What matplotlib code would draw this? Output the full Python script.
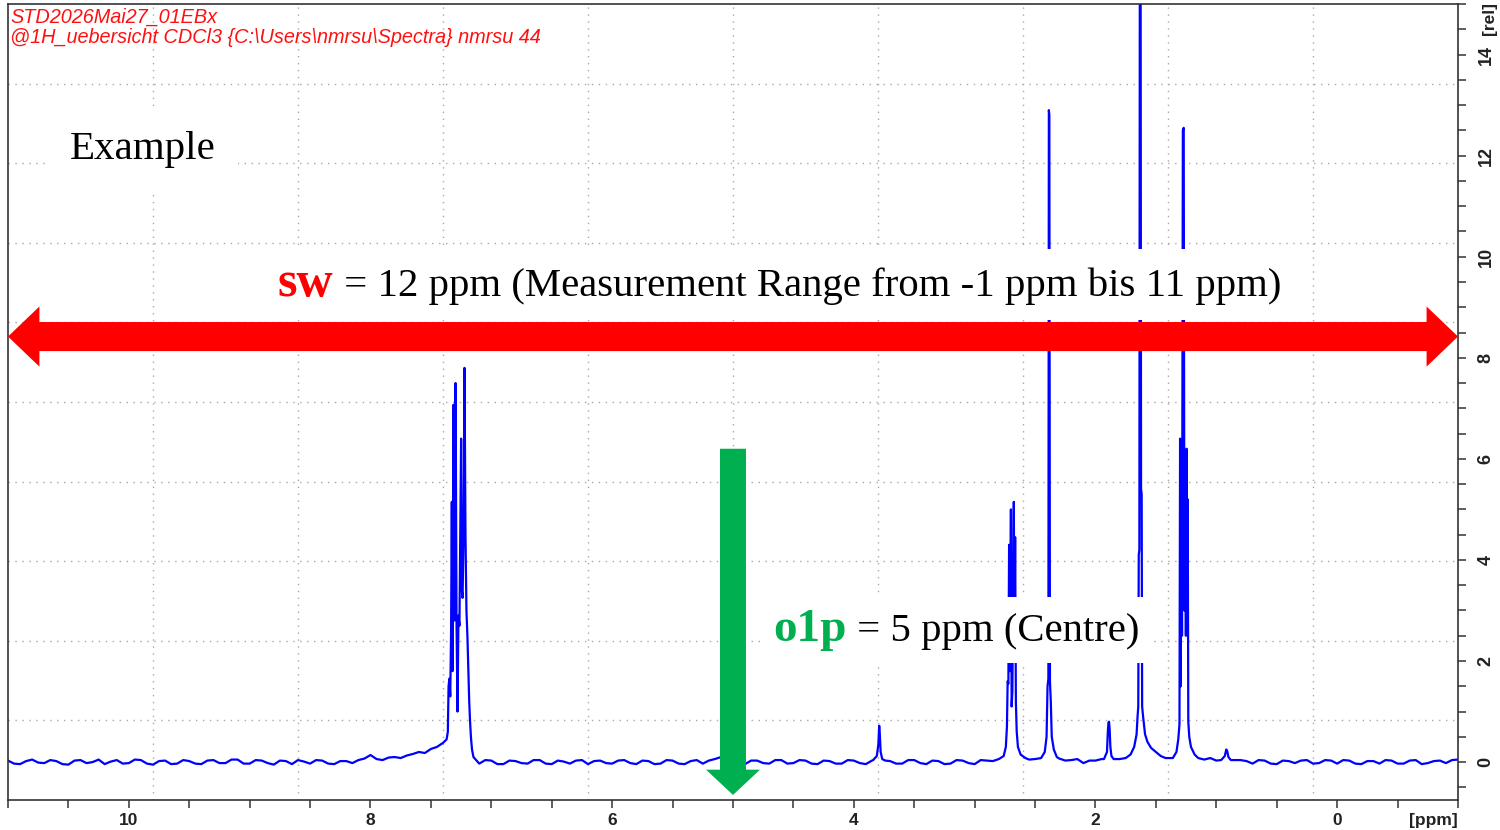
import numpy as np
import matplotlib
matplotlib.use('Agg')
import matplotlib.pyplot as plt
from matplotlib.patches import FancyArrow
from matplotlib.offsetbox import TextArea, HPacker, AnnotationBbox
from matplotlib.ticker import MultipleLocator

plt.rcParams['font.family'] = ['Liberation Sans', 'DejaVu Sans']

# baseline (every 0.05 ppm from 11 to -1)
base_ppm = np.round(np.linspace(11.0, -1.0, 241), 3)
base_int = [
    0.03, -0.03, -0.04, 0.02, 0.05, -0.01, -0.02, 0.04, 0.02, -0.04, -0.05, 0.03, 0.04, -0.02, 0.00, 0.05, -0.04, 0.01, 0.04, -0.03,
    -0.02, 0.05, 0.04, -0.03, -0.05, 0.02, 0.03, -0.04, -0.03, 0.04, 0.02, -0.03, -0.04, 0.03, 0.04, -0.02, -0.02, 0.05, 0.05, -0.03,
    -0.03, 0.04, 0.03, -0.02, -0.05, 0.03, 0.02, -0.04, 0.04, 0.01, -0.03, 0.04, 0.03, -0.03, -0.04, 0.02, 0.02, -0.02, 0.04, 0.07,
    0.14, 0.06, 0.04, 0.09, 0.10, 0.08, 0.13, 0.16, 0.20, 0.18, 0.26, 0.23, 0.32, 0.30, 0.30, 0.30, 0.05, 0.03, -0.03, 0.04,
    0.03, -0.04, -0.04, 0.03, 0.02, -0.02, -0.03, 0.04, 0.04, -0.03, -0.04, 0.03, 0.01, -0.03, 0.03, 0.04, -0.04, 0.02, 0.03, -0.02,
    -0.03, 0.03, 0.04, -0.02, -0.04, 0.03, 0.02, -0.04, -0.03, 0.04, 0.03, -0.03, -0.04, 0.02, 0.04, -0.03, 0.03, 0.06, 0.10, 0.04,
    0.01, -0.03, -0.04, 0.03, 0.03, -0.02, -0.03, 0.04, 0.04, -0.03, -0.02, 0.04, 0.03, -0.03, -0.04, 0.03, 0.02, -0.03, -0.03, 0.04,
    0.03, -0.02, -0.04, 0.03, 0.06, 0.02, 0.02, -0.03, -0.03, 0.04, 0.04, -0.02, -0.04, 0.03, 0.02, -0.04, -0.03, 0.04, 0.03, -0.02,
    -0.04, 0.04, 0.03, 0.02, 0.05, 0.07, 0.10, 0.09, 0.08, 0.05, 0.06, 0.09, 0.10, 0.06, 0.07, 0.03, 0.04, 0.06, -0.02, 0.03,
    0.03, 0.06, 0.08, 0.05, 0.06, 0.10, 0.14, 0.20, 0.30, 0.22, 0.18, 0.12, 0.08, 0.10, 0.10, 0.07, 0.09, 0.06, 0.05, 0.08,
    0.03, 0.06, 0.15, 0.04, 0.04, 0.02, -0.03, 0.04, 0.03, -0.03, -0.04, 0.03, 0.02, -0.02, 0.03, 0.04, -0.03, -0.02, 0.04, 0.03,
    -0.03, 0.04, 0.03, -0.03, -0.04, 0.02, 0.02, -0.03, 0.04, 0.03, -0.03, -0.03, 0.03, 0.04, -0.04, -0.02, 0.02, 0.03, -0.02, 0.04,
    0.05,
]

# signals (ppm, intensity)
arom_ppm = [7.45, 7.40, 7.37, 7.360, 7.354, 7.347, 7.340, 7.333, 7.327, 7.321,
            7.313, 7.306, 7.296, 7.288, 7.280, 7.272, 7.264, 7.256, 7.250, 7.244,
            7.238, 7.230, 7.222, 7.214, 7.206, 7.198, 7.190, 7.183, 7.176, 7.169,
            7.160, 7.148]
arom_int = [0.30, 0.38, 0.45, 0.6, 1.5, 1.65, 1.3, 2.6, 5.15, 1.8,
            7.07, 2.8, 7.5, 2.75, 1.0, 2.9, 2.7, 4.8, 6.4, 3.4,
            3.25, 4.5, 7.8, 4.5, 3.0, 2.5, 1.8, 1.2, 0.8, 0.5,
            0.25, 0.1]

ome_ppm = [3.84, 3.81, 3.797, 3.790, 3.785, 3.778, 3.765, 3.74]
ome_int = [0.04, 0.12, 0.35, 0.72, 0.55, 0.2, 0.06, 0.03]

m27_ppm = [2.80, 2.76, 2.742, 2.733, 2.727, 2.721, 2.715, 2.709, 2.700, 2.694,
           2.688, 2.676, 2.671, 2.665, 2.659, 2.652, 2.642, 2.62, 2.58]
m27_int = [0.06, 0.12, 0.3, 0.7, 1.6, 1.55, 4.3, 1.8, 5.0, 1.1,
           1.4, 5.15, 2.0, 4.45, 1.2, 0.6, 0.3, 0.15, 0.08]

s24_ppm = [2.45, 2.42, 2.405, 2.397, 2.390, 2.386, 2.382, 2.377, 2.370, 2.362, 2.345, 2.32]
s24_int = [0.08, 0.2, 0.5, 1.5, 1.65, 12.9, 12.8, 1.6, 1.2, 0.5, 0.25, 0.1]

m19_ppm = [1.93, 1.905, 1.898, 1.893, 1.888, 1.883, 1.877, 1.868, 1.85]
m19_int = [0.06, 0.2, 0.6, 0.78, 0.8, 0.65, 0.3, 0.12, 0.06]

s16_ppm = [1.75, 1.71, 1.68, 1.66, 1.652, 1.646, 1.642, 1.637, 1.633, 1.627,
           1.623, 1.618, 1.614, 1.606, 1.59, 1.57, 1.54, 1.50, 1.46, 1.42]
s16_int = [0.08, 0.15, 0.3, 0.55, 0.9, 1.1, 4.1, 4.2, 16.5, 16.5,
           5.4, 5.3, 1.1, 0.9, 0.55, 0.4, 0.28, 0.2, 0.12, 0.08]

m13_ppm = [1.36, 1.33, 1.315, 1.305, 1.300, 1.295, 1.289, 1.284, 1.277, 1.270,
           1.264, 1.258, 1.252, 1.246, 1.241, 1.237, 1.232, 1.224, 1.21, 1.18, 1.15]
m13_int = [0.08, 0.2, 0.45, 0.75, 6.4, 1.5, 5.0, 2.5, 12.5, 12.55,
           3.0, 5.5, 2.5, 6.2, 2.8, 5.2, 0.8, 0.5, 0.3, 0.15, 0.08]

m09_ppm = [0.96, 0.93, 0.918, 0.910, 0.90, 0.88]
m09_int = [0.04, 0.12, 0.25, 0.22, 0.1, 0.04]

signals = [(arom_ppm, arom_int), (ome_ppm, ome_int), (m27_ppm, m27_int),
           (s24_ppm, s24_int), (m19_ppm, m19_int), (s16_ppm, s16_int),
           (m13_ppm, m13_int), (m09_ppm, m09_int)]

# put the signals into the baseline
keep = np.ones(len(base_ppm), dtype=bool)
for p, _ in signals:
    keep &= ~((base_ppm >= min(p)) & (base_ppm <= max(p)))
ppm = np.concatenate([base_ppm[keep]] + [np.array(p) for p, _ in signals])
inten = np.concatenate([np.array(base_int)[keep]] + [np.array(i) for _, i in signals])
order = np.argsort(-ppm, kind='stable')
ppm, inten = ppm[order], inten[order]

fig = plt.figure(figsize=(15, 8.3), dpi=100)
ax = fig.add_axes([8/1500, 30/830, 1450/1500, 796/830])
ax.set_xlim(11, -1)
ax.set_ylim(-0.75, 15)

# dotted grid, 10 divisions each way
for gx in np.linspace(11, -1, 11)[1:-1]:
    ax.axvline(gx, color='#a8a8a8', lw=1, ls=(0, (1, 4)), zorder=0.5)
for gy in np.linspace(-0.75, 15, 11)[1:-1]:
    ax.axhline(gy, color='#a8a8a8', lw=1, ls=(0, (1, 4)), zorder=0.5)

ax.plot(ppm, inten, color='#0000ff', lw=1.6, zorder=2)

# axes styling
for s in ax.spines.values():
    s.set_color('#333333')
    s.set_linewidth(1.2)
ax.yaxis.tick_right()
ax.xaxis.set_major_locator(MultipleLocator(2))
ax.xaxis.set_minor_locator(MultipleLocator(0.5))
ax.yaxis.set_major_locator(MultipleLocator(2))
ax.yaxis.set_minor_locator(MultipleLocator(0.5))
ax.tick_params(which='both', direction='out', length=6, width=1.1, color='#333333')
ax.tick_params(axis='x', labelsize=12.5, pad=3, labelcolor='#222222')
ax.tick_params(axis='y', labelsize=13, pad=8, labelcolor='#222222', labelrotation=90)
for t in ax.get_xticklabels() + ax.get_yticklabels():
    t.set_fontweight('bold')
for t in ax.get_yticklabels():
    t.set_va('center')

ax.text(1.0, -0.026, '[ppm]', transform=ax.transAxes, ha='right', va='center',
        fontsize=12.5, fontweight='bold', color='#222222')
ax.text(1.0215, 0.982, '[rel]', transform=ax.transAxes, ha='center', va='center',
        rotation=90, fontsize=12.5, fontweight='bold', color='#222222')

# red header
ax.text(0.0014, 0.983, 'STD2026Mai27_01EBx', transform=ax.transAxes, ha='left',
        va='center', fontsize=14.3, fontstyle='italic', color='#ff1010', zorder=6)
ax.text(0.0014, 0.958, r'@1H_uebersicht CDCl3 {C:\Users\nmrsu\Spectra} nmrsu 44',
        transform=ax.transAxes, ha='left', va='center', fontsize=14.3,
        fontstyle='italic', color='#ff1010', zorder=6)

serif = ['Liberation Serif', 'DejaVu Serif']
ax.text(10.49, 12.12, 'Example', ha='left', va='center', fontsize=29.5,
        family=serif, color='black', zorder=4,
        bbox=dict(boxstyle='square,pad=0.55', fc='white', ec='none'))

# sw label
sw_box = HPacker(children=[
    TextArea('sw', textprops=dict(family=serif, fontsize=36, fontweight='bold', color='#ff0000')),
    TextArea(' = 12 ppm (Measurement Range from -1 ppm bis 11 ppm)',
             textprops=dict(family=serif, fontsize=29.3, color='black')),
], align='baseline', pad=0, sep=0)
ab = AnnotationBbox(sw_box, (8.766, 9.45), xycoords='data', box_alignment=(0, 0.5),
                    frameon=True, pad=0.6, fontsize=29.5,
                    bboxprops=dict(fc='white', ec='none', boxstyle='square'))
ab.set_zorder(4)
ax.add_artist(ab)

# o1p label
o1p_box = HPacker(children=[
    TextArea('o1p', textprops=dict(family=serif, fontsize=34, fontweight='bold', color='#00b050')),
    TextArea(' = 5 ppm (Centre)', textprops=dict(family=serif, fontsize=29.3, color='black')),
], align='baseline', pad=0, sep=0)
ab2 = AnnotationBbox(o1p_box, (4.664, 2.61), xycoords='data', box_alignment=(0, 0.5),
                     frameon=True, pad=0.35, fontsize=29.5,
                     bboxprops=dict(fc='white', ec='none', boxstyle='square'))
ab2.set_zorder(4)
ax.add_artist(ab2)

# red double arrow (sw) and green arrow (o1p)
for dx in (6.0, -6.0):
    ax.add_patch(FancyArrow(5.0, 8.42, dx, 0, width=0.575, head_width=1.19,
                            head_length=0.26, length_includes_head=True,
                            color='#ff0000', lw=0, zorder=5))
ax.add_patch(FancyArrow(5.0, 6.2, 0, -6.85, width=0.215, head_width=0.447,
                        head_length=0.5, length_includes_head=True,
                        color='#00b050', lw=0, zorder=5))

fig.savefig('out.png', dpi=100)
